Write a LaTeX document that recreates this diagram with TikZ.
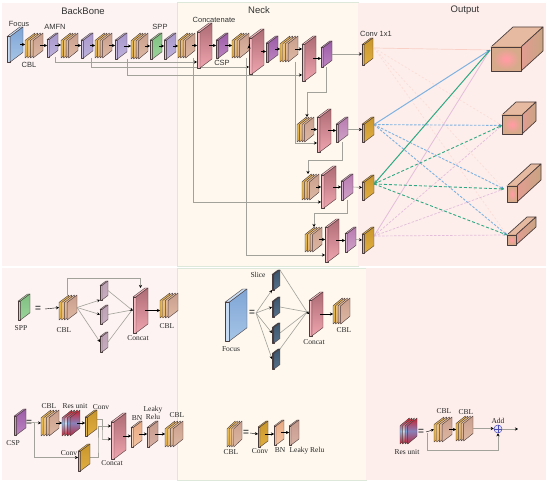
\documentclass[tikz,border=0pt]{standalone}
\usepackage{fontspec}
\setmainfont{Liberation Sans}
\newfontfamily\serifl{Liberation Serif}
\usetikzlibrary{arrows.meta,calc}
\pgfdeclarelayer{bg}
\pgfsetlayers{bg,main}
\definecolor{edgec}{HTML}{4A3C3C}
\definecolor{grayl}{HTML}{A2A29A}
\definecolor{pinkbg}{HTML}{FDF3F2}
\definecolor{creambg}{HTML}{FEF8EE}
\definecolor{rosebg}{HTML}{FDEEEB}
\definecolor{rimc}{HTML}{DDE8DA}
\definecolor{blueL}{HTML}{7FB2E2}
\definecolor{greenL}{HTML}{2FA983}
\definecolor{mauveL}{HTML}{E3BDDA}
\definecolor{peachL}{HTML}{F9CFC6}
\definecolor{blueD}{HTML}{4F90CC}
\tikzset{
 lab/.style={font=\fontsize{7.5}{8}\selectfont,text=black!80,inner sep=0pt},
 head/.style={font=\fontsize{9.5}{10}\selectfont,text=black!80,inner sep=0pt},
 slab/.style={font=\serifl\fontsize{7.5}{8}\selectfont,text=black!85,inner sep=0pt,align=center},
 eqs/.style={font=\bfseries\fontsize{10}{10}\selectfont,text=black!70,inner sep=0pt},
 hold/.style={inner sep=0pt,outer sep=0pt,draw=none,fill=none},
 blk/.style={draw=black,line width=.4pt,-{Stealth[length=3pt,width=3pt,black]},shorten <=-3pt},
 gl/.style={draw=grayl,line width=.6pt},
 gla/.style={gl,-{Stealth[length=3pt,width=3pt,black]}},
 tint/.style={line width=.4pt,draw=edgec,line join=round},
 bsol/.style={draw=blueL,line width=1pt},
 bdash/.style={draw=blueL,line width=.9pt,dash pattern=on 2.5pt off 1.5pt},
 gsol/.style={draw=greenL,line width=1pt},
 gdash/.style={draw=greenL,line width=.9pt,dash pattern=on 3pt off 2pt},
 msol/.style={draw=mauveL,line width=.8pt},
 mdash/.style={draw=mauveL,line width=.7pt,dash pattern=on 2.5pt off 1.5pt},
 psol/.style={draw=peachL,line width=.7pt},
 pdash/.style={draw=peachL!70,line width=.7pt,dash pattern=on 2pt off 2pt},
}
% thin panel: name, x0,y0,x1,y1, top colour, bottom colour, strip colour
\newcommand{\panelblk}[8]{%
 \definecolor{pnt}{HTML}{#6}\definecolor{pnb}{HTML}{#7}\definecolor{pns}{HTML}{#8}%
 \pgfmathsetmacro{\wv}{#4-#2}\pgfmathsetmacro{\hv}{#5-#3}%
 \pgfmathsetmacro{\sv}{max(2,0.2*\wv)}%
 \pgfmathsetmacro{\rv}{0.75*(\wv-\sv)}%
 \pgfmathsetmacro{\xm}{#2+\sv}\pgfmathsetmacro{\ym}{#3+\rv}\pgfmathsetmacro{\yb}{#5-\rv}%
 \pgfmathsetmacro{\xr}{#4-\sv}%
 \node[hold,minimum width=\wv pt,minimum height=\hv pt] (#1) at ({(#2+#4)/2},{(#3+#5)/2}) {};
 \path[tint,fill=pns] (#2,\ym) -- (\xr,#3) -- (#4,#3) -- (\xm,\ym) -- cycle;
 \path[tint,fill=pns] (#2,\ym) -- (\xm,\ym) -- (\xm,#5) -- (#2,#5) -- cycle;
 \path[tint,top color=pnt,bottom color=pnb] (\xm,\ym) -- (#4,#3) -- (#4,\yb) -- (\xm,#5) -- cycle;
}
% one sheet of a stack: x0,y0,x1,y1, rise, top, bottom, middle
\newcommand{\sheet}[8]{%
 \definecolor{sht}{HTML}{#6}\definecolor{shb}{HTML}{#7}\definecolor{shm}{HTML}{#8}%
 \path[tint,top color=sht,bottom color=shb,middle color=shm] (#1,{#2+#5}) -- (#3,#2) -- (#3,{#4-#5}) -- (#1,#4) -- cycle;
}
\newcommand{\cblblk}[5]{%
 \pgfmathsetmacro{\wv}{#4-#2}\pgfmathsetmacro{\hv}{#5-#3}%
 \pgfmathsetmacro{\dv}{0.15*\wv}\pgfmathsetmacro{\rw}{\wv-3*\dv}%
 \pgfmathsetmacro{\xb}{#2+\dv}\pgfmathsetmacro{\xc}{#2+2*\dv}\pgfmathsetmacro{\xd}{#2+3*\dv}%
 \pgfmathsetmacro{\rv}{0.3*\hv}%
 \node[hold,minimum width=\wv pt,minimum height=\hv pt] (#1) at ({(#2+#4)/2},{(#3+#5)/2}) {};
 \sheet{#2}{#3}{#2+\rw}{#5}{\rv}{E2B25A}{DCA63F}{E6B850}
 \sheet{\xb}{#3}{\xb+\rw}{#5}{\rv}{EBC38A}{E4B570}{EDC076}
 \sheet{\xc}{#3}{\xc+\rw}{#5}{\rv}{E6C0A0}{D9AE8C}{E3BA98}
 \sheet{\xd}{#3}{#4}{#5}{\rv}{C99F8C}{DDB8A4}{D4AC98}
}
\newcommand{\resblk}[5]{%
 \pgfmathsetmacro{\wv}{#4-#2}\pgfmathsetmacro{\hv}{#5-#3}%
 \pgfmathsetmacro{\dv}{0.15*\wv}\pgfmathsetmacro{\rw}{\wv-3*\dv}%
 \pgfmathsetmacro{\xb}{#2+\dv}\pgfmathsetmacro{\xc}{#2+2*\dv}\pgfmathsetmacro{\xd}{#2+3*\dv}%
 \pgfmathsetmacro{\rv}{0.3*\hv}%
 \node[hold,minimum width=\wv pt,minimum height=\hv pt] (#1) at ({(#2+#4)/2},{(#3+#5)/2}) {};
 \sheet{#2}{#3}{#2+\rw}{#5}{\rv}{D8202C}{C81E2E}{8FB4E0}
 \sheet{\xb}{#3}{\xb+\rw}{#5}{\rv}{D8202C}{C81E2E}{C8D8F0}
 \sheet{\xc}{#3}{\xc+\rw}{#5}{\rv}{D8202C}{C81E2E}{7FA4DC}
 \sheet{\xd}{#3}{#4}{#5}{\rv}{C92030}{B82A40}{8A80B8}
}
\definecolor{cubetop}{HTML}{E5BAA0}
\definecolor{cubesa}{HTML}{E29C92}
\definecolor{cubesb}{HTML}{C9A582}
\definecolor{cubein}{HTML}{FF9CA2}
\definecolor{cubeout}{HTML}{D6AA8A}
\pgfdeclareradialshading{cubefront}{\pgfpointorigin}{color(0bp)=(cubein); color(3bp)=(cubein); color(22bp)=(cubeout); color(50bp)=(cubeout)}
% cube: name, x0,y0,x1,y1 of the front, dx, dy
\newcommand{\cube}[7]{%
 \pgfmathsetmacro{\wv}{#4-#2}\pgfmathsetmacro{\hv}{#5-#3}%
 \node[hold,minimum width=\wv pt,minimum height=\hv pt] (#1) at ({(#2+#4)/2},{(#3+#5)/2}) {};
 \path[draw=edgec,line width=.7pt,line join=round,fill=cubetop] (#2,#3) -- ({#2+#6},{#3-#7}) -- ({#4+#6},{#3-#7}) -- (#4,#3) -- cycle;
 \path[draw=edgec,line width=.7pt,line join=round,left color=cubesa,right color=cubesb] (#4,#3) -- ({#4+#6},{#3-#7}) -- ({#4+#6},{#5-#7}) -- (#4,#5) -- cycle;
 \path[draw=edgec,line width=.7pt,line join=round,shading=cubefront] (#2,#3) rectangle (#4,#5);
}
\newcommand{\focusb}[5]{\panelblk{#1}{#2}{#3}{#4}{#5}{7FA5D6}{A6C5E6}{C8DDF3}}
\newcommand{\amfn}[5]{\panelblk{#1}{#2}{#3}{#4}{#5}{A797CC}{BFB2DC}{CFC4E6}}
\newcommand{\cspb}[5]{\panelblk{#1}{#2}{#3}{#4}{#5}{9C5CA8}{BC84C0}{C898CC}}
\newcommand{\purb}[5]{\panelblk{#1}{#2}{#3}{#4}{#5}{B87CB0}{CFA0C8}{D8B0D2}}
\newcommand{\conc}[5]{\panelblk{#1}{#2}{#3}{#4}{#5}{AE6C74}{EFA4AE}{F6B8C0}}
\newcommand{\convb}[5]{\panelblk{#1}{#2}{#3}{#4}{#5}{C8962C}{E0AE40}{E4B850}}
\newcommand{\slicb}[5]{\panelblk{#1}{#2}{#3}{#4}{#5}{3C566E}{56708A}{2E4358}}
\newcommand{\mauve}[5]{\panelblk{#1}{#2}{#3}{#4}{#5}{BCA0B4}{C8AEC0}{D0B8C8}}
\newcommand{\bnb}[5]{\panelblk{#1}{#2}{#3}{#4}{#5}{E8A880}{F4C4A4}{F8D4BC}}
\newcommand{\lkb}[5]{\panelblk{#1}{#2}{#3}{#4}{#5}{C49A8C}{D8B0A4}{E0C0B4}}
\begin{document}
\begin{tikzpicture}[x=1pt,y=-1pt]
\useasboundingbox (0,0) rectangle (550,484);
% ---- top row
\focusb{focus}{7}{27}{23}{62}
\cblblk{cbla}{25}{33}{43}{58}
\amfn{aa}{47}{33}{58}{57}
\cblblk{cblb}{61}{33}{78}{58}
\amfn{ab}{81}{33}{93}{58}
\cblblk{cblc}{95}{33}{112}{58}
\amfn{ac}{115}{33}{127}{59}
\cblblk{cbld}{131}{33}{148}{59}
\panelblk{spp}{150}{33}{162}{59}{7FBF80}{9CD49C}{B0E0B0}
\amfn{ad}{164}{33}{176}{59}
\cblblk{cble}{178}{33}{195}{58}
\conc{cona}{197}{23}{212}{68}
\cspb{cspa}{216}{33}{228}{58}
\cblblk{cblf}{232}{33}{249}{58}
\conc{conb}{249}{29}{264}{74}
\cspb{cspb}{266}{36}{278}{62}
\cblblk{cblg}{280}{36}{298}{62}
\conc{conc}{302}{36}{316}{81}
\cspb{cspc}{321}{41}{332}{67}
\convb{cva}{362}{38}{373}{65}
% ---- second to fourth rows
\cblblk{rbc}{297}{117}{314}{142}
\conc{rbk}{317}{109}{331}{152}
\purb{rbp}{336}{117}{348}{142}
\convb{cvb}{362}{117}{374}{142}
\cblblk{rcc}{302}{174}{319}{200}
\conc{rck}{321}{166}{336}{208}
\purb{rcp}{341}{174}{353}{200}
\convb{cvc}{362}{175}{374}{200}
\cblblk{rdc}{305}{227}{322}{252}
\conc{rdk}{325}{219}{339}{262}
\purb{rdp}{345}{227}{356}{252}
\convb{cvd}{362}{227}{374}{253}
% ---- cubes
\cube{cua}{491}{47}{521}{71}{22}{20}
\cube{cub}{502}{115}{522}{134}{14}{13}
\cube{cuc}{507}{186}{517}{202}{24}{22}
\cube{cud}{507}{235}{516}{245}{20}{18}
\coordinate (oa) at (374,48);
\coordinate (ob) at (374,124.6);
\coordinate (oc) at (374,184);
\coordinate (od) at (374,236);
\coordinate (ia) at (490,50);
\coordinate (ib) at (502,125.4);
\coordinate (ic) at (504,189);
\coordinate (id) at (507,235);
% ---- SPP detail
\panelblk{sppd}{18}{294}{30}{320}{7FBF80}{9CD49C}{B0E0B0}
\node[eqs] (eqa) at (38,309) {=};
\coordinate (eqaa) at (45,309);
\cblblk{sc}{59}{295}{77}{320}
\mauve{sma}{100}{281}{108}{300}
\mauve{smb}{100}{305}{108}{324}
\mauve{smc}{100}{332}{108}{352}
\conc{sk}{133}{288}{148}{333}
\cblblk{sd}{160}{293}{178}{318}
\coordinate (sj) at (132,310);
% ---- CSP detail
\cspb{cspd}{14}{409}{26}{435}
\node[eqs] (eqb) at (29,423) {=};
\cblblk{ca}{41}{410}{59}{436}
\resblk{cr}{62}{410}{80}{436}
\convb{cc}{85}{410}{97}{436}
\convb{cl}{78}{444}{90}{471}
\conc{ck}{111}{413}{126}{459}
\bnb{cn}{131}{421}{142}{447}
\lkb{ce}{147}{421}{158}{447}
\cblblk{cz}{165}{421}{183}{447}
% ---- Focus detail
\focusb{fd}{225}{289}{247}{341}
\node[eqs] (eqc) at (252,313) {=};
\coordinate (fan) at (256,313);
\slicb{fa}{272}{270}{280}{290}
\slicb{fb}{272}{297}{280}{317}
\slicb{fc}{272}{323}{280}{343}
\slicb{fe}{272}{349}{280}{369}
\conc{fk}{309}{292}{323}{336}
\cblblk{fz}{333}{298}{350}{324}
\coordinate (fj) at (307,312);
% ---- CBL detail
\cblblk{da}{227}{421}{242}{447}
\node[eqs] (eqd) at (246,433) {=};
\coordinate (eqdd) at (250,433);
\convb{db}{258}{421}{268}{447}
\bnb{dc}{274}{420}{284}{445}
\lkb{dd}{289}{420}{299}{445}
% ---- Res unit detail
\resblk{ea}{400}{418}{417}{444}
\node[eqs] (eqe) at (421,432) {=};
\coordinate (eqee) at (426,432);
\cblblk{eb}{434}{417}{452}{442}
\cblblk{ec}{456}{416}{473}{441}
\node[circle,draw=blue!40!gray,fill=blue!12,line width=.5pt,minimum size=8pt,inner sep=0pt] (ed) at (498,429) {};
\draw[blue!40!gray,line width=.4pt] (ed.north) -- (ed.south) (ed.west) -- (ed.east);
\coordinate (eo) at (518,429);
% ---- short black arrows
\foreach \a/\b in {focus/cbla,cbla/aa,aa/cblb,cblb/ab,ab/cblc,cblc/ac,ac/cbld,cbld/spp,spp/ad,ad/cble,cble/cona,cona/cspa,cspa/cblf,cblf/conb,conb/cspb,cspb/cblg,cblg/conc,conc/cspc,rbc/rbk,rbk/rbp,rcc/rck,rck/rcp,rdc/rdk,rdk/rdp,ca/cr,cr/cc,ck/cn,cn/ce,ce/cz,sk/sd,fk/fz,db/dc,dc/dd}
 \draw[blk] (\a.east) -- (\a.east -| \b.west);
\draw[blk,shorten <=0pt] (eqaa) -- (sc.west);
\draw[blk,shorten <=0pt] (eqdd) -- (db.west);
\draw[blk,shorten <=0pt] (eqee) -- (eb.west);
\draw[blk] (eb.east) -- (eb.east -| ec.west);
\draw[gla] (cspd.east) -- (ca.west);
\draw[gla] (cspc.east) -- (cspc.east -| cva.west);
\draw[gla] (rbp.east) -- (cvb.west);
\draw[gla] (rcp.east) -- (cvc.west);
\draw[gla] (rdp.east) -- (cvd.west);
\draw[gla] (sc.east) -- (sma.south west);
\draw[gla] (sc.east) -- (smb.west);
\draw[gla] (sc.east) -- (smc.west);
\draw[gla] (ec.east) -- (ec.east -| ed.west);
\draw[gla] (ed.east) -- (eo);
% ---- connectors under the blocks
\begin{pgfonlayer}{bg}
\path[fill=white] (0,0) rectangle (550,484);
\path[fill=pinkbg] (2,3) rectangle (177,266);
\path[fill=creambg,draw=rimc,line width=.6pt] (177,2) rectangle (358,266);
\path[fill=rosebg] (358,3) rectangle (546,266);
\path[fill=pinkbg] (2,268) rectangle (177,480);
\path[fill=creambg,draw=rimc,line width=.6pt] (177,268) rectangle (366,480);
\path[fill=rosebg] (366,268) rectangle (546,480);
\draw[gla] ([xshift=3pt]aa.south) |- ([yshift=-16.5pt]cona.west);
\draw[gla] ([xshift=4pt]ab.south) |- ([yshift=-15.5pt]conb.west);
\draw[gla] ([xshift=6pt]ac.south) |- ([yshift=-16.5pt]conc.west);
\draw[gla] ([xshift=6.5pt]cble.south) |- ([yshift=-15pt]rck.west);
\draw[gla] ([xshift=5.5pt]cblf.south) |- ([yshift=-14.5pt]rdk.west);
\draw[gla] ([xshift=6pt]cblg.south) |- ([yshift=-12.5pt]rbk.west);
\coordinate (ta) at (307,92);
\coordinate (tb) at (308,160);
\coordinate (tc) at (314,213);
\draw[gla] (cspc.south) |- (ta) -- (ta |- rbc.north);
\draw[gla] (rbp.south) |- (tb) -- (tb |- rcc.north);
\draw[gla] (rcp.south) |- (tc) -- (tc |- rdc.north);
% output lines
\draw[psol] (oa) -- (ia);
\draw[pdash] (oa) -- (ib);
\draw[pdash] (oa) -- (ic);
\draw[pdash] (oa) -- (id);
\draw[msol] (od) -- (ia);
\draw[mdash] (od) -- (ib);
\draw[mdash] (od) -- (ic);
\draw[mdash] (od) -- (id);
\draw[bsol,-{Stealth[length=3.5pt,width=3.5pt,blueD]}] (ob) -- (ia);
\draw[bdash,-{Stealth[length=3pt,width=3pt,blueD]}] (ob) -- (ib);
\draw[bdash,-{Stealth[length=3pt,width=3pt,blueD]}] (ob) -- (ic);
\draw[bdash,-{Stealth[length=3pt,width=3pt,blueD]}] (ob) -- (id);
\draw[gsol,{Stealth[length=4pt,width=4pt]}-] (oc) -- (ia);
\draw[gdash,-{Stealth[length=3pt,width=3pt]}] (oc) -- (ib);
\draw[gdash,-{Stealth[length=3pt,width=3pt]}] (oc) -- (ic);
\draw[gdash,-{Stealth[length=3pt,width=3pt]}] (oc) -- (id);
% SPP lines
\draw[gla] ([xshift=-1pt]sc.north) |- ++(0,-17) -| (sk.north);
\draw[gl] (sma.east) -- (sj);
\draw[gl] (smb.east) -- (sj);
\draw[gl] (smc.east) -- (sj);
% CSP lines
\coordinate (cm) at (34,423);
\draw[gla] (cm) |- (cl.west);
\draw[gla] ([yshift=4pt]cc.east) -| ++(5,21) |- ([yshift=-3pt]ck.west);
\draw[gla] (cl.east) -| ++(8,-9) |- ([yshift=10pt]ck.west);
% Focus lines
\draw[gla] (fan) -- (fa.south west);
\draw[gla] (fan) -- (fb.west);
\draw[gla] (fan) -- (fc.west);
\draw[gla] (fan) -- (fe.west);
\draw[gl] (fa.north east) -- (fj);
\draw[gl] (fb.east) -- (fj);
\draw[gl] (fc.east) -- (fj);
\draw[gl] (fe.north east) -- (fj);
% Res feedback
\coordinate (ef) at (427,450);
\draw[gla] (ef) -- (ef -| ed) -- (ed.south);
\draw[gl] (ef) -- (427,433);
\end{pgfonlayer}
\draw[blk,shorten <=0pt] (sj) -- (sk.west);
\draw[blk,shorten <=0pt] (fj) -- (fk.west);
% ---- labels
\node[head] (ha) at (83,11) {BackBone};
\node[head] (hb) at (259,10) {Neck};
\node[head] (hc) at (465,10) {Output};
\node[lab] (la) at (19,24) {Focus};
\node[lab] (lb) at (29,65) {CBL};
\node[lab] (lc) at (55,27) {AMFN};
\node[lab] (ld) at (160,27) {SPP};
\node[lab] (le) at (214,20) {Concatenate};
\node[lab] (lf) at (222,63) {CSP};
\node[lab] (lg) at (376,34) {Conv 1x1};
\node[slab] (sa) at (21,328) {SPP};
\node[slab] (sb) at (64,330) {CBL};
\node[slab] (sc2) at (138,338) {Concat};
\node[slab] (sd2) at (167,326) {CBL};
\node[slab] (ta2) at (13,443) {CSP};
\node[slab] (tb2) at (49,406) {CBL};
\node[slab] (tc2) at (75,406) {Res unit};
\node[slab] (td2) at (101,407) {Conv};
\node[slab] (te2) at (69,453) {Conv};
\node[slab] (tf2) at (112,463) {Concat};
\node[slab] (tg2) at (137,418) {BN};
\node[slab] (th2) at (153,413) {Leaky\\Relu};
\node[slab] (ti2) at (177,415) {CBL};
\node[slab] (ua) at (258,275) {Slice};
\node[slab] (ub) at (231,349) {Focus};
\node[slab] (uc) at (314,342) {Concat};
\node[slab] (ud) at (344,330) {CBL};
\node[slab] (va) at (231,452) {CBL};
\node[slab] (vb) at (260,451) {Conv};
\node[slab] (vc) at (280,450) {BN};
\node[slab] (vd) at (307,451) {Leaky Relu};
\node[slab] (wa) at (407,452) {Res unit};
\node[slab] (wb) at (444,411) {CBL};
\node[slab] (wc) at (466,412) {CBL};
\node[slab] (wd) at (498,421) {Add};
\end{tikzpicture}
\end{document}
